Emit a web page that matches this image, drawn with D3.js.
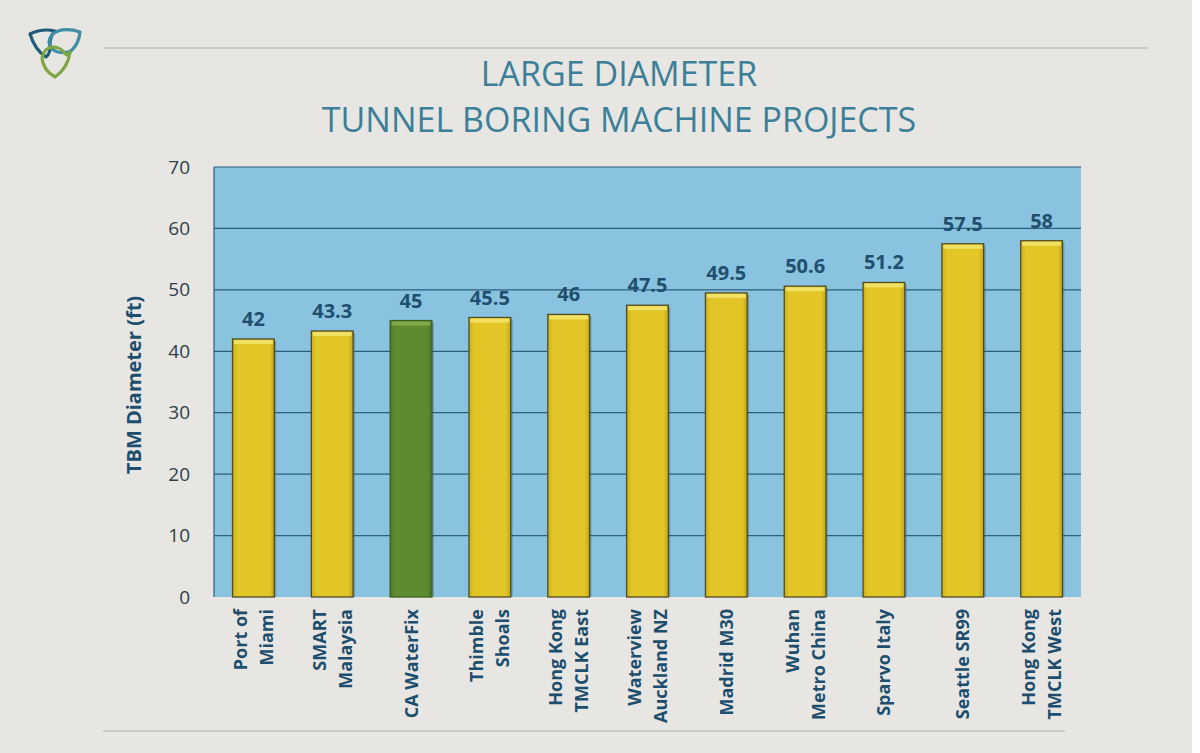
<!DOCTYPE html>
<html><head><meta charset="utf-8">
<script src="https://cdn.jsdelivr.net/npm/d3@7"></script>
<style>body{margin:0;background:#fff}svg{display:block}</style>
</head><body>
<script>
const categories = [["Port of","Miami"],["SMART","Malaysia"],["CA WaterFix"],["Thimble","Shoals"],["Hong Kong","TMCLK East"],["Waterview","Auckland NZ"],["Madrid M30"],["Wuhan","Metro China"],["Sparvo Italy"],["Seattle SR99"],["Hong Kong","TMCLK West"]];
const values = [42,43.3,45,45.5,46,47.5,49.5,50.6,51.2,57.5,58];
const labels = ["42","43.3","45","45.5","46","47.5","49.5","50.6","51.2","57.5","58"];
const highlight = [false,false,true,false,false,false,false,false,false,false,false];
const yTicks = [0,10,20,30,40,50,60,70];

const W=1200,H=753;
const svg=d3.select("body").append("svg").attr("width",W).attr("height",H);
svg.append("rect").attr("x",0).attr("y",0).attr("width",1192).attr("height",H).attr("fill","#e7e6e3");
const defs=svg.append("defs");
const gy=defs.append("linearGradient").attr("id","gy").attr("x1",0).attr("x2",1).attr("y1",0).attr("y2",0);
gy.append("stop").attr("offset","0").attr("stop-color","#c9ae18");
gy.append("stop").attr("offset","0.12").attr("stop-color","#e2c627");
gy.append("stop").attr("offset","0.88").attr("stop-color","#e2c627");
gy.append("stop").attr("offset","1").attr("stop-color","#c2a616");
const gg=defs.append("linearGradient").attr("id","gg").attr("x1",0).attr("x2",1).attr("y1",0).attr("y2",0);
gg.append("stop").attr("offset","0").attr("stop-color","#4e7a25");
gg.append("stop").attr("offset","0.12").attr("stop-color","#5f8b30");
gg.append("stop").attr("offset","0.88").attr("stop-color","#5f8b30");
gg.append("stop").attr("offset","1").attr("stop-color","#4a7422");

// separators
svg.append("line").attr("x1",103).attr("x2",1148).attr("y1",48).attr("y2",48).attr("stroke","#c3c2b8").attr("stroke-width",1.5);
svg.append("line").attr("x1",103).attr("x2",1065).attr("y1",731).attr("y2",731).attr("stroke","#c3c2b8").attr("stroke-width",1.5);

// logo (triquetra-like)
const lg=svg.append("g").attr("fill","none").attr("stroke-width",3.2).attr("stroke-linecap","round").attr("stroke-linejoin","round");
lg.append("path").attr("d","M30,34 Q42,28 55,31 Q50,36 50,44 Q51,53 46,57 Q35,50 30,34Z").attr("stroke","#1f5a7a");
lg.append("path").attr("d","M80,32 Q68,28 58,31 Q50,34 49,42 Q50,50 58,52 Q68,54 72,50 Q79,43 80,32Z").attr("stroke","#3f8ea6");
lg.append("path").attr("d","M55,77 Q43,70 42,58 Q44,48 52,47 Q60,47 64,52 Q68,58 70,52 Q68,68 55,77Z").attr("stroke","#7ea744");

// title
const title=svg.append("g").attr("fill","#3b7f98").attr("font-family","Open Sans, sans-serif").attr("font-size",34).attr("text-anchor","middle");
title.append("text").attr("x",619).attr("y",86).text("LARGE DIAMETER");
title.append("text").attr("x",619).attr("y",132).text("TUNNEL BORING MACHINE PROJECTS");

const L=214,R=1081,T=167,B=597;
const x=d3.scaleBand().domain(d3.range(values.length)).range([L,R]).paddingInner(0.47).paddingOuter(0.235);
const y=d3.scaleLinear().domain([0,70]).range([B,T]);

svg.append("rect").attr("x",L).attr("y",T).attr("width",R-L).attr("height",B-T).attr("fill","#8ac3df");
svg.append("g").selectAll("line").data(yTicks.filter(d=>d>0)).join("line")
  .attr("x1",L).attr("x2",R).attr("y1",d=>y(d)).attr("y2",d=>y(d)).attr("stroke","#2b5f7c").attr("stroke-width",1.2);
svg.append("line").attr("x1",L).attr("x2",L).attr("y1",T).attr("y2",B).attr("stroke","#2b5f7c").attr("stroke-width",1.2);

// y axis
const ya=svg.append("g").attr("transform",`translate(${L},0)`).call(d3.axisLeft(y).tickValues(yTicks).tickSize(0).tickPadding(24));
ya.select(".domain").remove();
ya.selectAll("text").attr("font-family","Open Sans, sans-serif").attr("font-size",19).attr("fill","#2f3e48");

svg.append("text").attr("transform","translate(141,385) rotate(-90)").attr("text-anchor","middle")
  .attr("font-family","Open Sans, sans-serif").attr("font-weight","bold").attr("font-size",20).attr("fill","#1d4e6d").text("TBM Diameter (ft)");

// bars
const bars=svg.append("g");
bars.selectAll("rect.sh").data(values).join("rect").attr("class","sh")
  .attr("x",(d,i)=>x(i)+2).attr("y",d=>y(d)+2).attr("width",x.bandwidth()).attr("height",d=>B-y(d)-2)
  .attr("fill","#3c5a66").attr("opacity",0.35);
bars.selectAll("rect.b").data(values).join("rect").attr("class","b")
  .attr("x",(d,i)=>x(i)).attr("y",d=>y(d)).attr("width",x.bandwidth()).attr("height",d=>B-y(d))
  .attr("fill",(d,i)=>highlight[i]?"url(#gg)":"url(#gy)").attr("stroke",(d,i)=>highlight[i]?"#3e5e22":"#4f4c26").attr("stroke-width",1.3);
bars.selectAll("rect.hl").data(values).join("rect").attr("class","hl")
  .attr("x",(d,i)=>x(i)+1.5).attr("y",d=>y(d)+1).attr("width",x.bandwidth()-3).attr("height",4)
  .attr("fill",(d,i)=>highlight[i]?"#86ad4e":"#f3e46a").attr("opacity",0.9);

// value labels
svg.append("g").selectAll("text").data(values).join("text")
  .attr("x",(d,i)=>x(i)+x.bandwidth()/2).attr("y",d=>y(d)-13).attr("text-anchor","middle")
  .attr("font-family","Open Sans, sans-serif").attr("font-weight","bold").attr("font-size",20).attr("fill","#1f4f6d")
  .text((d,i)=>labels[i]);

// x labels
const xl=svg.append("g");
categories.forEach((c,i)=>{
  const cx=x(i)+x.bandwidth()/2;
  const n=c.length, lh=26;
  c.forEach((line,j)=>{
    const off=(j-(n-1)/2)*lh;
    xl.append("text").attr("transform",`translate(${cx+off+6.5},609) rotate(-90)`).attr("text-anchor","end")
      .attr("font-family","Open Sans, sans-serif").attr("font-weight","bold").attr("font-size",18).attr("fill","#1d4e6d").text(line);
  });
});
</script>
</body></html>
